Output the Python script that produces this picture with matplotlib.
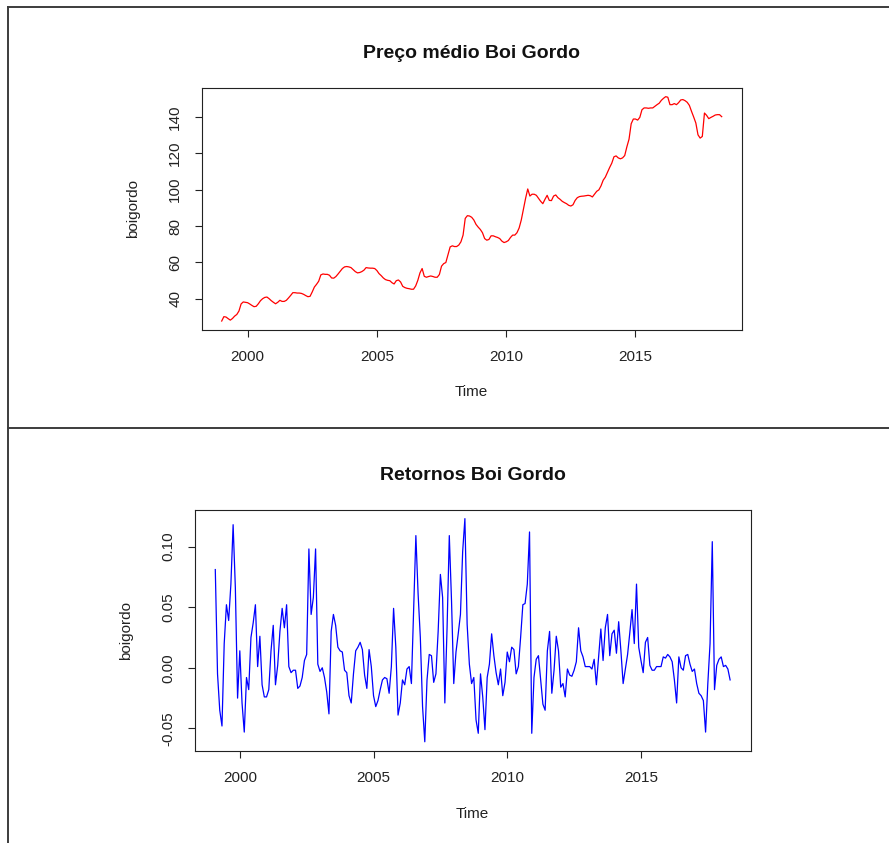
import numpy as np
import matplotlib
matplotlib.use("Agg")
import matplotlib.pyplot as plt
from matplotlib.lines import Line2D

W, H = 889, 843
plt.rcParams["font.family"] = ["Liberation Sans", "DejaVu Sans"]

# monthly average price, Jan 1999 .. May 2018
boigordo = [
    27.7, 30.1, 29.9, 29.0, 28.2, 29.1, 30.4, 31.3, 33.2, 37.1,
    38.2, 38.0, 37.8, 37.1, 36.3, 35.6, 35.8, 37.2, 38.9, 40.0,
    40.7, 40.9, 40.0, 38.9, 38.0, 37.2, 38.0, 39.1, 38.5, 38.5,
    39.1, 40.4, 41.8, 43.3, 43.3, 43.1, 43.1, 42.9, 42.4, 41.7,
    41.1, 41.3, 43.7, 46.4, 47.9, 49.6, 53.1, 53.6, 53.4, 53.4,
    52.9, 51.4, 51.3, 52.2, 53.6, 55.1, 56.6, 57.5, 57.7, 57.5,
    57.1, 56.0, 54.9, 54.2, 54.4, 54.9, 55.7, 57.1, 56.9, 56.8,
    56.8, 56.6, 55.5, 53.8, 52.7, 51.4, 50.5, 50.1, 49.9, 48.8,
    48.1, 49.9, 50.3, 49.2, 46.8, 46.1, 45.7, 45.5, 45.2, 45.2,
    47.0, 50.1, 54.2, 56.6, 52.3, 51.8, 52.2, 52.5, 52.2, 51.8,
    51.8, 53.3, 57.9, 59.3, 59.9, 64.3, 68.5, 69.1, 68.7, 68.7,
    69.5, 71.3, 75.0, 84.2, 85.7, 85.5, 84.8, 83.3, 80.9, 79.4,
    78.1, 76.3, 73.1, 72.2, 72.6, 74.6, 74.6, 74.1, 73.7, 73.1,
    71.7, 70.9, 71.3, 72.0, 73.7, 75.0, 75.0, 76.3, 78.9, 83.3,
    89.4, 95.2, 100.4, 96.5, 97.5, 97.5, 96.9, 95.2, 93.6, 92.3,
    94.7, 96.9, 94.1, 94.0, 96.5, 97.1, 95.6, 94.7, 93.6, 92.9,
    92.3, 91.4, 91.0, 91.7, 94.1, 95.6, 96.2, 96.4, 96.5, 96.7,
    96.9, 96.7, 96.0, 97.6, 99.1, 99.9, 102.1, 105.2, 106.9, 109.6,
    112.2, 114.6, 118.1, 118.6, 117.5, 117.0, 117.5, 118.8, 123.6, 127.8,
    136.3, 138.9, 138.9, 138.3, 139.8, 144.0, 145.0, 145.0, 144.8, 145.0,
    145.0, 145.9, 146.8, 147.6, 149.2, 150.3, 151.2, 150.9, 146.8, 146.8,
    147.4, 146.8, 147.9, 149.4, 149.6, 149.0, 148.1, 146.4, 143.1, 140.0,
    136.7, 130.2, 128.4, 129.3, 142.2, 140.9, 139.1, 139.8, 140.4, 141.1,
    141.3, 141.3, 140.2,
]

# monthly returns, Feb 1999 .. May 2018
retornos = [
    0.081, -0.005, -0.035, -0.048, 0.020, 0.052, 0.039, 0.069, 0.118, 0.066,
    -0.025, 0.014, -0.029, -0.053, -0.008, -0.018, 0.025, 0.037, 0.052, 0.001,
    0.026, -0.014, -0.024, -0.024, -0.018, 0.014, 0.035, -0.014, 0.002, 0.030,
    0.049, 0.033, 0.052, 0.001, -0.004, -0.002, -0.002, -0.017, -0.015, -0.008,
    0.006, 0.011, 0.098, 0.044, 0.058, 0.098, 0.003, -0.003, 0.000, -0.008,
    -0.020, -0.038, 0.030, 0.044, 0.035, 0.017, 0.014, 0.013, -0.002, -0.004,
    -0.023, -0.029, -0.005, 0.014, 0.017, 0.021, 0.015, -0.006, -0.017, 0.015,
    0.001, -0.023, -0.032, -0.027, -0.018, -0.010, -0.008, -0.009, -0.021, 0.001,
    0.049, 0.017, -0.039, -0.029, -0.010, -0.014, -0.001, 0.001, -0.013, 0.047,
    0.109, 0.061, 0.025, -0.032, -0.061, -0.010, 0.011, 0.010, -0.012, -0.005,
    0.030, 0.077, 0.058, -0.029, 0.033, 0.109, 0.055, -0.013, 0.013, 0.028,
    0.044, 0.096, 0.123, 0.036, 0.003, -0.013, -0.008, -0.043, -0.054, -0.005,
    -0.024, -0.051, -0.008, 0.003, 0.028, 0.010, -0.004, -0.014, -0.001, -0.023,
    -0.012, 0.013, 0.005, 0.017, 0.015, -0.005, 0.001, 0.025, 0.052, 0.053,
    0.069, 0.112, -0.054, -0.008, 0.007, 0.010, -0.010, -0.030, -0.035, 0.014,
    0.030, -0.021, -0.002, 0.026, 0.014, -0.016, -0.013, -0.024, -0.001, -0.006,
    -0.007, -0.002, 0.005, 0.033, 0.014, 0.009, 0.001, 0.001, 0.001, -0.001,
    0.007, -0.014, 0.009, 0.032, 0.006, 0.033, 0.044, 0.010, 0.028, 0.031,
    0.012, 0.038, 0.014, -0.013, -0.001, 0.011, 0.029, 0.048, 0.020, 0.069,
    0.017, 0.006, -0.004, 0.021, 0.025, 0.002, -0.002, -0.002, 0.001, 0.001,
    0.001, 0.009, 0.008, 0.011, 0.009, 0.005, -0.010, -0.029, 0.009, 0.000,
    -0.002, 0.010, 0.011, 0.003, -0.003, -0.001, -0.013, -0.021, -0.023, -0.027,
    -0.053, -0.013, 0.020, 0.104, -0.018, 0.002, 0.007, 0.009, 0.001, 0.002,
    -0.001, -0.010,
]

year_ticks = [2000, 2005, 2010, 2015]
price_ticks = [40, 60, 80, 100, 120, 140]
return_ticks = [-0.05, 0.0, 0.05, 0.10]
return_labels = ["-0.05", "0.00", "0.05", "0.10"]

# ts time index (frequency 12)
t_price = 1999 + np.arange(len(boigordo)) / 12
t_ret = 1999 + (np.arange(len(retornos)) + 1) / 12

FONT = 11
FRAME = "#3c3c3c"


def fx(x):
    return x / W


def fy(y):
    return 1 - y / H


def r_axes(fig, left, top, right, bottom):
    ax = fig.add_axes([fx(left), fy(bottom), fx(right) - fx(left), fy(top) - fy(bottom)])
    for s in ax.spines.values():
        s.set_linewidth(0.8)
        s.set_color("#222222")
    ax.tick_params(direction="out", length=5, width=0.8, color="#222222",
                   labelsize=FONT, labelcolor="#222222")
    ax.tick_params(axis="x", pad=9.5)
    ax.tick_params(axis="y", pad=9)
    ax.margins(x=0.04, y=0.04)
    return ax


fig = plt.figure(figsize=(W / 100, H / 100), dpi=100)
fig.patch.set_facecolor("white")

# top panel: price
ax1 = r_axes(fig, 201.7, 87.7, 741.7, 330)
ax1.plot(t_price, boigordo, color="#ff0000", lw=0.9)
ax1.set_xticks(year_ticks)
ax1.set_xticklabels([str(y) for y in year_ticks])
ax1.set_yticks(price_ticks)
ax1.set_yticklabels([str(v) for v in price_ticks])
plt.setp(ax1.get_yticklabels(), rotation=90, va="center")
fig.text(fx(471.7), fy(54), "Preço médio Boi Gordo", ha="center", va="center",
         fontsize=14, fontweight="bold", color="#111111")
fig.text(fx(471.7), fy(392), "Time", ha="center", va="center", fontsize=FONT, color="#222222")
fig.text(fx(133), fy(209), "boigordo", ha="center", va="center", rotation=90,
         fontsize=FONT, color="#222222")

# bottom panel: returns
ax2 = r_axes(fig, 194.7, 509.7, 750.7, 750.7)
ax2.plot(t_ret, retornos, color="#0000ff", lw=0.9)
ax2.set_xticks(year_ticks)
ax2.set_xticklabels([str(y) for y in year_ticks])
ax2.set_yticks(return_ticks)
ax2.set_yticklabels(return_labels)
plt.setp(ax2.get_yticklabels(), rotation=90, va="center")
fig.text(fx(472.7), fy(476), "Retornos Boi Gordo", ha="center", va="center",
         fontsize=14, fontweight="bold", color="#111111")
fig.text(fx(472.7), fy(814), "Time", ha="center", va="center", fontsize=FONT, color="#222222")
fig.text(fx(126), fy(630), "boigordo", ha="center", va="center", rotation=90,
         fontsize=FONT, color="#222222")

# panel frames
for xs, ys in [([7.5, 7.5], [6.5, 843]), ([7.5, 889], [6.5, 6.5]), ([7.5, 889], [428, 428])]:
    fig.add_artist(Line2D([fx(x) for x in xs], [fy(y) for y in ys],
                          color=FRAME, lw=1.4, transform=fig.transFigure))

fig.savefig("out.png", dpi=100, facecolor="white")
